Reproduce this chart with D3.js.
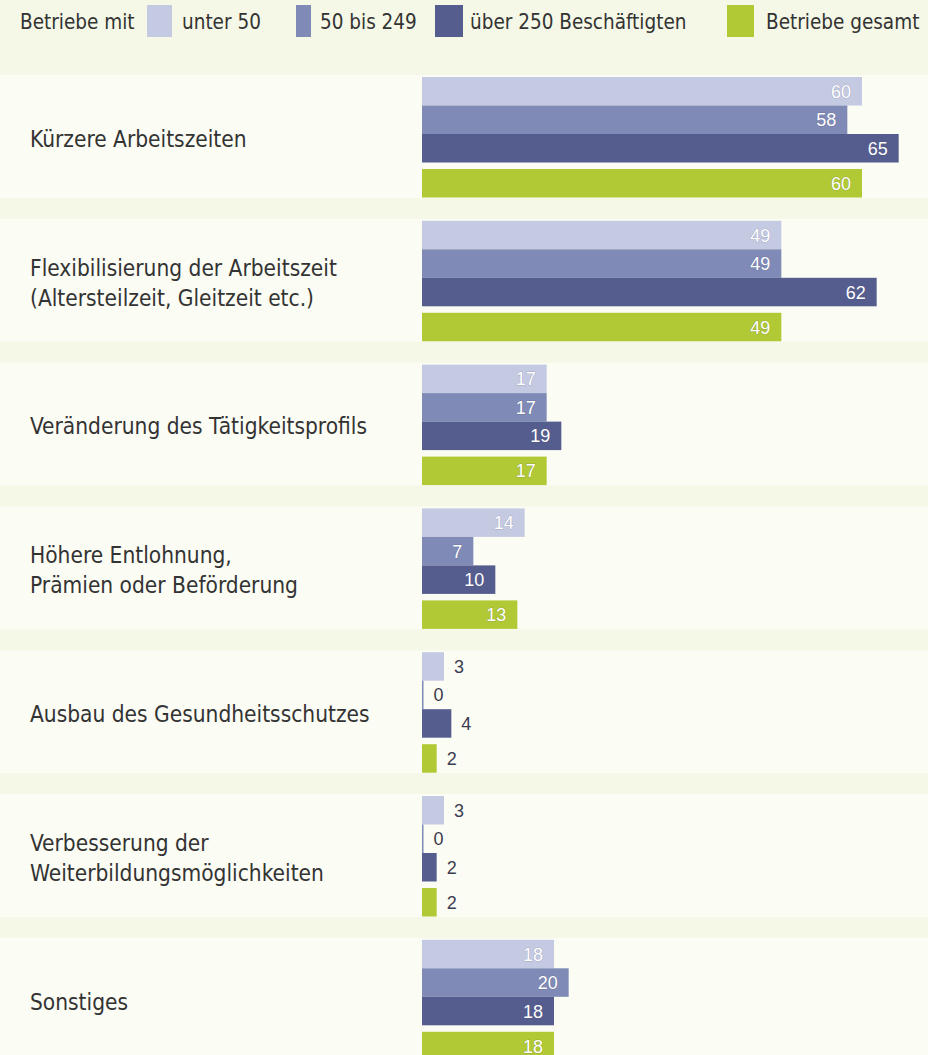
<!DOCTYPE html>
<html>
<head>
<meta charset="utf-8">
<title>Maßnahmen nach Betriebsgröße</title>
<script src="https://cdn.jsdelivr.net/npm/d3@7"></script>
<style>
  body { margin: 0; background: #f5f8e6; }
  .cat { font-family: "Liberation Sans Narrow", "DejaVu Sans Condensed", sans-serif; font-size: 22.5px; fill: #333; }
  .leg { font-family: "Liberation Sans Narrow", "DejaVu Sans Condensed", sans-serif; font-size: 20.5px; fill: #333; }
  .val { font-family: "Liberation Sans", Arial, sans-serif; font-size: 18px; }
</style>
</head>
<body>
<div id="chart"></div>
<script>
// Kategorien (Zeilen) und Werte in Prozent
var categories = [
  ["Kürzere Arbeitszeiten"],
  ["Flexibilisierung der Arbeitszeit", "(Altersteilzeit, Gleitzeit etc.)"],
  ["Veränderung des Tätigkeitsprofils"],
  ["Höhere Entlohnung,", "Prämien oder Beförderung"],
  ["Ausbau des Gesundheitsschutzes"],
  ["Verbesserung der", "Weiterbildungsmöglichkeiten"],
  ["Sonstiges"]
];
var seriesNames = ["unter 50", "50 bis 249", "über 250 Beschäftigten", "Betriebe gesamt"];
var unter50   = [60, 49, 17, 14, 3, 3, 18];
var bis249    = [58, 49, 17, 7, 0, 0, 20];
var ueber250  = [65, 62, 19, 10, 4, 2, 18];
var gesamt    = [60, 49, 17, 13, 2, 2, 18];
var colors = ["#c5cae3", "#7f8ab6", "#555d8f", "#b1c934"];

var width = 928, height = 1055;
var svg = d3.select("#chart").append("svg")
  .attr("width", width).attr("height", height);

svg.append("rect").attr("width", width).attr("height", height).attr("fill", "#f5f8e6");

var x = d3.scaleLinear().domain([0, 60]).range([422, 862]);
var groupY = d3.scaleLinear().domain([0, 1]).range([77, 77 + 143.8]);
var barH = 28.5;
// Versatz der vier Balken innerhalb einer Gruppe
var offsets = [0, 28.5, 57, 92];

var series = [unter50, bis249, ueber250, gesamt];

var groups = svg.selectAll(".grp")
  .data(categories)
  .enter().append("g")
  .attr("class", "grp")
  .attr("transform", function(d, i) { return "translate(0," + groupY(i) + ")"; });

groups.append("rect")
  .attr("x", 0).attr("y", -2)
  .attr("width", width).attr("height", 123)
  .attr("fill", "#fbfcf3");

groups.each(function(lines, i) {
  var g = d3.select(this);
  var mid = 62;
  g.selectAll("text.cat")
    .data(lines)
    .enter().append("text")
    .attr("class", "cat")
    .attr("x", 30)
    .attr("y", function(d, k) { return mid + (k - (lines.length - 1) / 2) * 30; })
    .attr("dy", "0.35em")
    .text(function(d) { return d; });

  series.forEach(function(vals, s) {
    var v = vals[i];
    var w = Math.max(x(v) - x(0), 1.5);
    g.append("rect")
      .attr("x", x(0))
      .attr("y", offsets[s])
      .attr("width", w)
      .attr("height", barH)
      .attr("fill", colors[s]);
    var inside = v >= 7;
    g.append("text")
      .attr("class", "val")
      .attr("x", inside ? x(v) - 11 : x(0) + w + 10)
      .attr("y", offsets[s] + barH / 2)
      .attr("dy", "0.36em")
      .attr("text-anchor", inside ? "end" : "start")
      .attr("fill", inside ? "#fff" : "#3c3c50")
      .style("paint-order", "stroke")
      .attr("stroke", inside ? "rgba(60,60,90,0.25)" : "none")
      .attr("stroke-width", 1)
      .text(v);
  });
});

// Legende
var leg = svg.append("g");
leg.append("text").attr("class", "leg").attr("x", 20).attr("y", 22).attr("dy", "0.35em").text("Betriebe mit");
var legItems = [
  { sx: 147, sw: 25, tx: 182 },
  { sx: 296, sw: 15, tx: 320 },
  { sx: 435, sw: 28, tx: 470 },
  { sx: 727, sw: 27, tx: 766 }
];
legItems.forEach(function(it, s) {
  leg.append("rect").attr("x", it.sx).attr("y", 5).attr("width", it.sw).attr("height", 32).attr("fill", colors[s]);
  leg.append("text").attr("class", "leg").attr("x", it.tx).attr("y", 22).attr("dy", "0.35em").text(seriesNames[s]);
});
</script>
</body>
</html>
